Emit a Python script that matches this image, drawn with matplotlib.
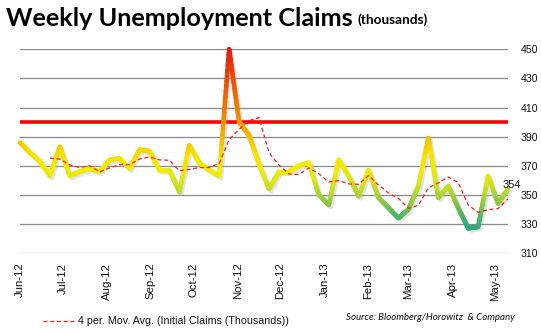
import numpy as np
import pandas as pd
import matplotlib
matplotlib.use('Agg')
import matplotlib.pyplot as plt
import matplotlib.dates as mdates
from matplotlib.collections import LineCollection
from matplotlib.colors import LinearSegmentedColormap, Normalize
from matplotlib.transforms import ScaledTranslation
from matplotlib.lines import Line2D

# ---- data ----
week_ending = pd.date_range('2012-06-16', periods=50, freq='7D')
claims = [386, 379, 373, 363, 383, 363, 366, 368, 366, 374,
          375, 368, 381, 380, 367, 367, 352, 384, 372, 367,
          363, 450, 400, 391, 371, 354, 366, 366, 370, 372,
          350, 343, 374, 363, 349, 367, 348, 341, 334, 340,
          356, 389, 348, 356, 341, 327, 328, 363, 344, 354]
threshold = 400
ma_window = 4
month_ticks = pd.date_range('2012-06-16', periods=12, freq=pd.DateOffset(months=1))
month_labels = list(month_ticks.strftime('%b-%y'))
y_ticks = [310, 330, 350, 370, 390, 410, 430, 450]

title = 'Weekly Unemployment Claims'
subtitle = '(thousands)'
legend_label = '4 per. Mov. Avg. (Initial Claims (Thousands))'
source = 'Source: Bloomberg/Horowitz  & Company'

# ---- figure ----
W, H = 541, 334
fig = plt.figure(figsize=(W / 100, H / 100), dpi=100)
fig.patch.set_facecolor('white')
ax = fig.add_axes([20 / W, 81 / H, 488 / W, 203.7 / H])
ax.set_facecolor('white')

xs = mdates.date2num(week_ending)
ys = np.asarray(claims, dtype=float)

ax.set_xlim(xs[0], xs[-1])
ax.set_ylim(y_ticks[0], y_ticks[-1])
for s in ax.spines.values():
    s.set_visible(False)

# gridlines
for v in y_ticks:
    ax.axhline(v, color='#8a8a8a', lw=0.9, zorder=1)

# threshold line
ax.axhline(threshold, color='#ff0000', lw=2.6, zorder=2)

# shadow
shadow_tr = ax.transData + ScaledTranslation(1.4 / 72, -1.6 / 72, fig.dpi_scale_trans)
ax.plot(xs, ys, color='#a0a0a0', alpha=0.3, lw=3.3, transform=shadow_tr,
        solid_joinstyle='round', zorder=3, clip_on=False)

# gradient line
cmap = LinearSegmentedColormap.from_list('claims', [
    (0.00, '#23a584'),
    (0.08, '#4bb565'),
    (0.18, '#9fcf3c'),
    (0.27, '#dbe51c'),
    (0.34, '#f3ec00'),
    (0.42, '#f6e200'),
    (0.49, '#f4c600'),
    (0.54, '#f2b000'),
    (0.63, '#ef8c00'),
    (0.80, '#ea5a08'),
    (1.00, '#de1a12'),
])
norm = Normalize(vmin=325, vmax=450)
segs, cols = [], []
n_sub = 24
for i in range(len(xs) - 1):
    t = np.linspace(0, 1, n_sub + 1)
    px = xs[i] + (xs[i + 1] - xs[i]) * t
    py = ys[i] + (ys[i + 1] - ys[i]) * t
    for k in range(n_sub):
        segs.append([(px[k], py[k]), (px[k + 1], py[k + 1])])
        cols.append(cmap(norm((py[k] + py[k + 1]) / 2)))
lc = LineCollection(segs, colors=cols, linewidths=3.3, capstyle='round',
                    joinstyle='round', zorder=4, clip_on=False)
ax.add_collection(lc)

# moving average
ma = pd.Series(ys).rolling(ma_window).mean()
ax.plot(xs, ma, color='#ff1a1a', lw=0.9, ls=(0, (3.2, 2.2)), zorder=5, clip_on=False)

# data label
ax.annotate(str(claims[-1]), (xs[-1], ys[-1]), xytext=(2.5, 3.2),
            textcoords='offset points', ha='center', va='center',
            fontsize=8, family='Liberation Sans', color='#111111', zorder=6)

# ticks
ax.yaxis.tick_right()
ax.set_yticks(y_ticks)
ax.set_yticklabels([str(v) for v in y_ticks], fontsize=7.6, family='Liberation Sans', color='#111111')
ax.set_xticks(mdates.date2num(month_ticks))
ax.set_xticklabels(month_labels, rotation=90, fontsize=8.2, family='Liberation Sans', color='#111111')
ax.tick_params(axis='y', length=0, pad=9)
ax.tick_params(axis='x', length=0, pad=7)

# title
fig.text(6 / W, 1 - 18 / H, title, fontsize=18.2, fontweight='bold', family='Lato',
         va='center', ha='left', color='#000000')
fig.text(357 / W, 1 - 20 / H, subtitle, fontsize=9.8, fontweight='bold', family='Lato',
         va='center', ha='left', color='#000000')

# legend
fig.add_artist(Line2D([43 / W, 76 / W], [1 - 321 / H] * 2, color='#ff1a1a', lw=0.9,
                      ls=(0, (3.2, 2.2))))
fig.text(78 / W, 1 - 321 / H, legend_label, fontsize=7.7, family='Liberation Sans',
         va='center', ha='left', color='#111111')
fig.text(346 / W, 1 - 318 / H, source, fontsize=7, style='italic', family='Lato',
         va='center', ha='left', color='#111111')

fig.savefig('out.png', dpi=100, facecolor='white')
